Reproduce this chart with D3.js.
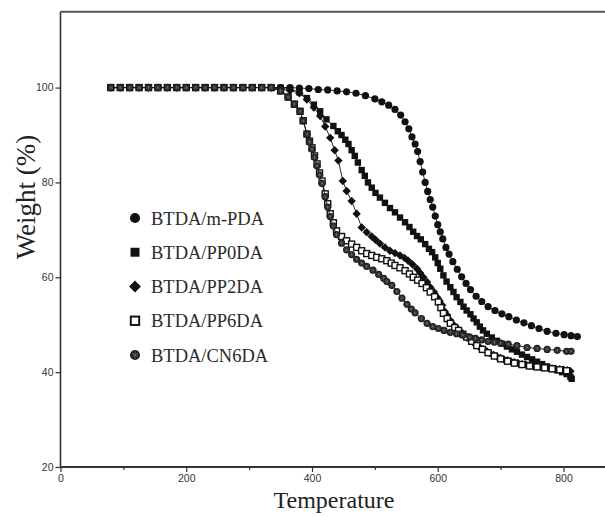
<!DOCTYPE html>
<html>
<head>
<meta charset="utf-8">
<script src="https://cdn.jsdelivr.net/npm/d3@7"></script>
<style>
  html, body { margin: 0; padding: 0; background: #ffffff; }
  svg { display: block; }
</style>
</head>
<body>
<svg id="chart" width="605" height="517"></svg>
<script>
// ---------------- DATA ----------------
const seriesNames = ["BTDA/m-PDA", "BTDA/PP0DA", "BTDA/PP2DA", "BTDA/PP6DA", "BTDA/CN6DA"];
const xTicks = [0, 200, 400, 600, 800];
const xMinorTicks = [100, 300, 500, 700];
const yTicks = [20, 40, 60, 80, 100];

// [temperature, weight %]
const mPDA = [[80,100],[95,100],[110,100],[125,100],[140,100],[155,100],[170,100],[185,100],[200,100],[215,100],[230,100],[245,100],[260,100],[275,100],[290,100],[305,100],[320,100],[335,100],[350,100],[365,100],[380,99.9],[395,99.8],[410,99.6],[425,99.5],[440,99.3],[455,99.1],[470,98.8],[485,98.3],[500,97.6],[511,97.0],[522,96.3],[532,95.4],[541,94.2],[548,92.8],[554,91.3],[559,89.6],[564,88.1],[568,86.5],[572,84.4],[576,82.2],[580,80.0],[584,78.1],[588,76.4],[592,74.8],[596,72.9],[600,71.1],[604,69.6],[608,68.1],[613,66.3],[618,64.9],[624,63.3],[631,61.7],[638,60.1],[645,58.7],[652,57.4],[661,56.0],[670,54.9],[680,53.8],[691,53.0],[702,52.3],[713,51.7],[725,51.0],[737,50.4],[749,49.8],[761,49.2],[774,48.6],[788,48.2],[801,47.9],[812,47.7],[822,47.5]];

const pp0DA = [[80,100],[95,100],[110,100],[125,100],[140,100],[155,100],[170,100],[185,100],[200,100],[215,100],[230,100],[245,100],[260,100],[275,100],[290,100],[305,100],[320,100],[335,100],[350,100],[365,99.8],[380,99.0],[392,97.8],[403,96.4],[413,95.0],[423,93.3],[434,91.9],[441,90.8],[447,90.0],[453,89.0],[458,88.1],[463,86.8],[468,85.6],[473,84.2],[479,82.6],[484,81.4],[489,80.0],[495,78.9],[501,77.8],[508,76.8],[516,75.7],[524,74.6],[532,73.7],[540,72.6],[548,71.6],[555,70.6],[561,69.6],[567,68.7],[573,68.0],[580,67.0],[586,66.0],[591,65.3],[596,64.2],[600,63.0],[604,61.8],[609,60.4],[614,59.1],[620,57.9],[625,56.9],[630,55.8],[636,54.8],[641,53.8],[646,53.0],[652,52.2],[657,51.3],[662,50.5],[667,49.6],[672,48.8],[678,48.1],[686,47.3],[694,46.6],[702,46.0],[710,45.4],[718,44.8],[726,44.3],[734,43.7],[742,43.2],[750,42.7],[758,42.2],[766,41.7],[774,41.2],[782,40.8],[790,40.4],[798,40.0],[805,39.6],[811,39.0],[813,38.6]];

const pp2DA = [[80,100],[95,100],[110,100],[125,100],[140,100],[155,100],[170,100],[185,100],[200,100],[215,100],[230,100],[245,100],[260,100],[275,100],[290,100],[305,100],[320,100],[335,100],[350,99.7],[365,99.4],[380,98.8],[392,97.5],[403,95.8],[413,94.0],[421,91.8],[429,89.4],[436,86.8],[442,84.6],[449,80.3],[455,78.2],[463,76.1],[471,73.4],[479,70.5],[487,69.5],[495,68.6],[501,67.9],[508,67.1],[516,66.3],[524,65.6],[532,65.1],[540,64.6],[547,64.1],[553,63.5],[560,62.7],[567,61.8],[572,60.9],[577,60.0],[583,59.0],[588,57.9],[594,56.9],[599,55.8],[603,55.0],[607,54.1],[611,52.8],[615,52.0],[620,50.9],[625,50.0],[630,49.3],[636,48.6],[641,47.9],[646,47.3],[652,46.7],[657,46.2],[662,45.7],[667,45.2],[672,44.8],[678,44.4],[683,44.0],[689,43.6],[694,43.3],[700,43.0],[705,42.7],[711,42.5],[716,42.3],[722,42.1],[728,41.9],[734,41.7],[740,41.6],[746,41.4],[752,41.3],[758,41.2],[764,41.1],[770,41.0],[776,40.9],[782,40.8],[788,40.7],[794,40.6],[800,40.5],[806,40.4],[811,40.2]];

const pp6DA = [[80,100],[95,100],[110,100],[125,100],[140,100],[155,100],[170,100],[185,100],[200,100],[215,100],[230,100],[245,100],[260,100],[275,100],[290,100],[305,100],[320,100],[335,100],[350,99.3],[362,98.0],[372,96.5],[381,95.0],[386,93.0],[392,90.2],[396,88.7],[400,87.3],[404,85.6],[408,83.9],[412,82.0],[416,80.3],[421,77.6],[425,75.5],[429,73.4],[434,71.5],[439,69.8],[447,68.6],[455,67.7],[463,67.0],[471,66.3],[479,65.6],[487,65.0],[495,64.6],[503,64.2],[511,63.9],[519,63.5],[526,63.0],[532,62.5],[540,62.0],[548,61.4],[555,60.7],[561,60.0],[568,59.4],[575,58.7],[582,57.8],[588,56.9],[595,55.9],[601,54.8],[605,53.6],[609,52.4],[615,51.3],[620,50.3],[627,49.4],[633,48.8],[640,48.0],[646,47.4],[654,46.5],[662,45.6],[671,44.8],[680,44.1],[690,43.4],[700,42.8],[711,42.3],[722,41.9],[734,41.6],[746,41.3],[758,41.1],[770,40.9],[782,40.7],[794,40.5],[805,40.3]];

const cn6DA = [[80,100],[95,100],[110,100],[125,100],[140,100],[155,100],[170,100],[185,100],[200,100],[215,100],[230,100],[245,100],[260,100],[275,100],[290,100],[305,100],[320,100],[335,100],[350,99.3],[362,98.0],[372,96.5],[381,95.0],[386,93.0],[392,90.2],[396,88.5],[400,87.0],[404,85.3],[408,83.5],[412,81.6],[416,79.8],[421,77.0],[425,74.8],[429,72.8],[434,70.8],[439,69.0],[447,67.2],[455,65.8],[463,64.8],[471,63.8],[479,63.0],[487,62.3],[497,61.5],[506,60.6],[514,59.8],[519,59.1],[527,58.3],[535,57.0],[543,55.6],[551,54.3],[558,53.3],[564,52.5],[574,51.3],[583,50.3],[592,49.6],[601,49.2],[610,48.8],[620,48.4],[630,48.1],[640,47.8],[651,47.4],[660,47.1],[670,46.8],[680,46.5],[690,46.3],[700,46.1],[712,45.9],[726,45.6],[742,45.2],[758,45.0],[774,44.8],[790,44.6],[805,44.4],[812,44.4]];

const allSeries = [mPDA, pp0DA, pp2DA, pp6DA, cn6DA];
const markerKinds = ["circle", "square", "diamond", "openSquare", "star"];

// ---------------- LAYOUT ----------------
const svg = d3.select("#chart");
const W = 605, H = 517;
svg.append("rect").attr("width", W).attr("height", H).attr("fill", "#ffffff");

const x = d3.scaleLinear().domain([0, 866]).range([60.5, 605]);
const y = d3.scaleLinear().domain([20, 116]).range([467, 11.7]);

const ink = "#111";

// Frame lines (left, bottom, top); right side is cut off in the reference
svg.append("line").attr("x1", x(0)).attr("x2", x(0)).attr("y1", y(116)).attr("y2", y(20))
  .attr("stroke", "#333").attr("stroke-width", 1.6);
svg.append("line").attr("x1", x(0)).attr("x2", W).attr("y1", y(20)).attr("y2", y(20))
  .attr("stroke", "#333").attr("stroke-width", 1.8);
svg.append("line").attr("x1", x(0)).attr("x2", W).attr("y1", y(116)).attr("y2", y(116))
  .attr("stroke", "#555").attr("stroke-width", 2);

// Axes
const xAxis = svg.append("g").attr("transform", `translate(0,${y(20)})`)
  .call(d3.axisBottom(x).tickValues(xTicks).tickSize(5).tickSizeOuter(0).tickPadding(3));
const xMinor = svg.append("g").attr("transform", `translate(0,${y(20)})`)
  .call(d3.axisBottom(x).tickValues(xMinorTicks).tickSize(3).tickSizeOuter(0).tickFormat(""));
const yAxis = svg.append("g").attr("transform", `translate(${x(0)},0)`)
  .call(d3.axisLeft(y).tickValues(yTicks).tickSize(5).tickSizeOuter(0).tickPadding(2));

[xAxis, xMinor, yAxis].forEach(g => {
  g.select(".domain").remove();
  g.selectAll(".tick line").attr("stroke", "#333").attr("stroke-width", 1.2);
  g.selectAll(".tick text")
    .attr("fill", "#333")
    .style("font-family", "'Liberation Sans', Arial, sans-serif")
    .style("font-size", "10.5px");
});

// Axis titles
svg.append("text")
  .attr("x", 334).attr("y", 508)
  .attr("text-anchor", "middle")
  .style("font-family", "'Liberation Serif', 'Times New Roman', serif")
  .style("font-size", "24px")
  .attr("fill", "#222")
  .text("Temperature");

svg.append("text")
  .attr("transform", "translate(35,197) rotate(-90)")
  .attr("text-anchor", "middle")
  .style("font-family", "'Liberation Serif', 'Times New Roman', serif")
  .style("font-size", "27px")
  .attr("fill", "#222")
  .text("Weight (%)");

// Marker drawing
function drawMarker(g, kind, s) {
  if (kind === "circle") {
    g.append("circle").attr("r", 3.6 * s).attr("fill", ink);
  } else if (kind === "square") {
    g.append("rect").attr("x", -3.2 * s).attr("y", -3.2 * s).attr("width", 6.4 * s).attr("height", 6.4 * s).attr("fill", ink);
  } else if (kind === "diamond") {
    const r = 4.2 * s;
    g.append("path").attr("d", `M0,${-r}L${r},0L0,${r}L${-r},0Z`).attr("fill", ink);
  } else if (kind === "openSquare") {
    g.append("rect").attr("x", -3 * s).attr("y", -3 * s).attr("width", 6 * s).attr("height", 6 * s)
      .attr("fill", "#fff").attr("stroke", ink).attr("stroke-width", 1.4 * s);
  } else if (kind === "star") {
    g.append("circle").attr("r", 3.6 * s).attr("fill", "#1e1e1e");
    g.append("path").attr("d", d3.symbol().type(d3.symbolAsterisk).size(18 * s * s)())
      .attr("fill", "none").attr("stroke", "#777").attr("stroke-width", 0.55 * s);
  }
}

// Series
const line = d3.line().x(d => x(d[0])).y(d => y(d[1]));
allSeries.forEach((data, i) => {
  const g = svg.append("g").attr("class", "series");
  g.append("path").datum(data).attr("d", line)
    .attr("fill", "none").attr("stroke", ink).attr("stroke-width", 0.9);
  g.selectAll("g.pt").data(data).enter().append("g")
    .attr("class", "pt")
    .attr("transform", d => `translate(${x(d[0])},${y(d[1])})`)
    .each(function () { drawMarker(d3.select(this), markerKinds[i], 1); });
});

// Legend
const legendY = d3.scalePoint().domain(seriesNames).range([218, 355]);
const legend = svg.append("g");
seriesNames.forEach((name, i) => {
  const row = legend.append("g").attr("transform", `translate(0,${legendY(name)})`);
  const m = row.append("g").attr("transform", "translate(135,0)");
  drawMarker(m, markerKinds[i], 1.4);
  row.append("text").attr("x", 151).attr("y", 6.5)
    .style("font-family", "'Liberation Serif', 'Times New Roman', serif")
    .style("font-size", "18.5px")
    .attr("fill", "#2a2a2a")
    .text(name);
});
</script>
</body>
</html>
